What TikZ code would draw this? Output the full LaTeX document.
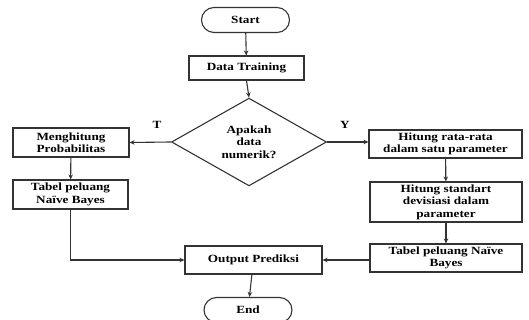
\documentclass[tikz,border=0pt]{standalone}
\usepackage{fontspec}
\newfontfamily\fcfont[FakeStretch=1.2]{Liberation Serif}
\usetikzlibrary{shapes.geometric,shapes.misc,arrows.meta}
\begin{document}
\begin{tikzpicture}[x=1pt,y=-1pt,
  every node/.style={font=\fcfont\bfseries\fontsize{11}{12.5}\selectfont, align=center, inner sep=1pt},
  boxs/.style={draw=black!80, line width=1.1pt, minimum width=#1},
  term/.style={draw=black!80, line width=1.1pt, rounded rectangle, minimum width=90, minimum height=25},
  dec/.style={draw=black!80, line width=1.1pt, diamond, minimum width=155, minimum height=75, inner sep=0pt},
  arr/.style={draw=black!80, line width=1.1pt, -{Stealth[length=5pt,width=4.5pt]}},
  lbl/.style={font=\fcfont\bfseries\fontsize{11}{12.5}\selectfont}]
\clip (0,0) rectangle (529,320);
\node[term] (start) at (245.5,20) {Start};
\node[boxs=115, minimum height=24] (train) at (246.5,68) {Data Training};
\node[dec] (q) at (249,142) {Apakah\\data\\numerik?};
\node[boxs=116, minimum height=29] (l1) at (71,142.5) {Menghitung\\Probabilitas};
\node[boxs=115, minimum height=29] (l2) at (70.5,194.5) {Tabel peluang\\Naïve Bayes};
\node[boxs=153, minimum height=28] (r1) at (445.5,144) {Hitung rata-rata\\dalam satu parameter};
\node[boxs=152, minimum height=40] (r2) at (446,202) {Hitung standart\\devisiasi dalam\\parameter};
\node[boxs=152, minimum height=28] (r3) at (446,258) {Tabel peluang Naïve\\Bayes};
\node[boxs=137, minimum height=28] (out) at (253.5,260) {Output Prediksi};
\node[term] (end) at (248,310) {End};
\node[lbl] (t) at (157,125) {T};
\node[lbl] (y) at (345,125) {Y};
\draw[arr] (start) -- (train);
\draw[arr] (train.south) -- (q.north);
\draw[arr] (q.west) -- (l1.east);
\draw[arr] (q.east) -- (r1.west|-q.east);
\draw[arr] (l1) -- (l2);
\draw[arr] (l2.south) |- (out.west);
\draw[arr] (r1) -- (r2);
\draw[arr] (r2) -- (r3);
\draw[arr] (out.east-|r3.west) -- (out.east);
\draw[arr] (out) -- (end);
\end{tikzpicture}
\end{document}
